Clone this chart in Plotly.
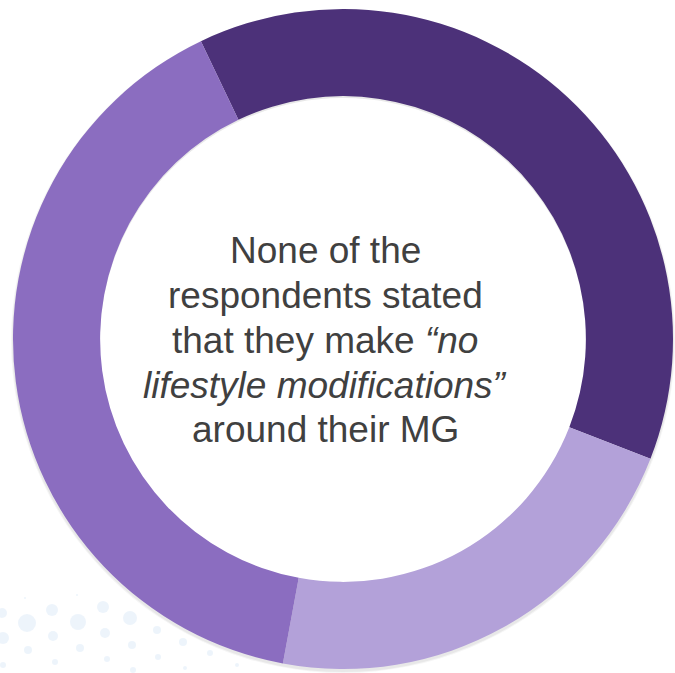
import plotly.graph_objects as go

# Data
segments = ["Segment A", "Segment B", "Segment C"]
shares = [38, 22, 40]
colors = ["#4c3179", "#b3a1d9", "#8b6dc0"]

center_lines = [
    "None of the",
    "respondents stated",
    "that they make <i>“no</i>",
    "<i>lifestyle modifications”</i>",
    "around their MG",
]
line_baselines = [262, 307, 352, 397, 442]

# Decorative background dots (pixel positions, radius)
dot_x = [2, 27, 52, 78, 103, 130, 157, 3, 53, 105, 132, 158, 28, 80, 107, 133, 55, 3, 183, 210, 237, 185, 25, 77]
dot_y = [613, 623, 610, 622, 607, 618, 630, 638, 636, 633, 645, 657, 650, 648, 659, 670, 662, 665, 642, 653, 665, 668, 598, 595]
dot_r = [5, 9, 6, 8, 6, 7, 4, 6, 5, 5, 4, 3, 4, 4, 3, 3, 3, 3, 4, 3, 2, 2, 1, 1]

W, H = 675, 673
HOLE = 0.736

def clamp(v):
    return max(0.0, min(1.0, v))

fig = go.Figure()

fig.add_trace(go.Scatter(
    x=dot_x, y=dot_y, mode="markers",
    marker=dict(size=[2 * r for r in dot_r], color="#e6f0fa", line=dict(width=0)),
    hoverinfo="skip", showlegend=False,
))

# soft shadow rings
for k, a in [(2, 0.04), (1, 0.05)]:
    fig.add_trace(go.Pie(
        labels=["shadow"], values=[1], hole=HOLE * 330 / (330 + k),
        marker=dict(colors=[f"rgba(0,0,0,{a})"]),
        domain=dict(x=[clamp((13 - k) / W), clamp((673 + k) / W)],
                    y=[clamp((H - 669 - k - 2) / H), clamp((H - 9 + k - 2) / H)]),
        textinfo="none", sort=False, showlegend=False, hoverinfo="skip",
    ))

fig.add_trace(go.Pie(
    labels=segments, values=shares, hole=HOLE,
    marker=dict(colors=colors, line=dict(width=0)),
    sort=False, direction="clockwise", rotation=-25.5,
    domain=dict(x=[13 / W, 673 / W], y=[(H - 669) / H, (H - 9) / H]),
    textinfo="none", showlegend=False,
))

for txt, base in zip(center_lines, line_baselines):
    fig.add_annotation(
        x=325 / W, y=(H - (base - 12)) / H, xref="paper", yref="paper",
        text=txt, showarrow=False,
        font=dict(family="Liberation Sans, Arial, sans-serif", size=37, color="#404040"),
        align="center", xanchor="center", yanchor="middle",
    )

fig.update_layout(
    width=W, height=H,
    margin=dict(l=0, r=0, t=0, b=0),
    paper_bgcolor="white", plot_bgcolor="white",
    xaxis=dict(range=[0, W], visible=False, fixedrange=True),
    yaxis=dict(range=[H, 0], visible=False, fixedrange=True),
    showlegend=False,
)

fig.write_html(
    "out.html",
    config={"displayModeBar": False},
    post_script="document.body.style.margin='0';document.body.style.overflow='hidden';",
)
